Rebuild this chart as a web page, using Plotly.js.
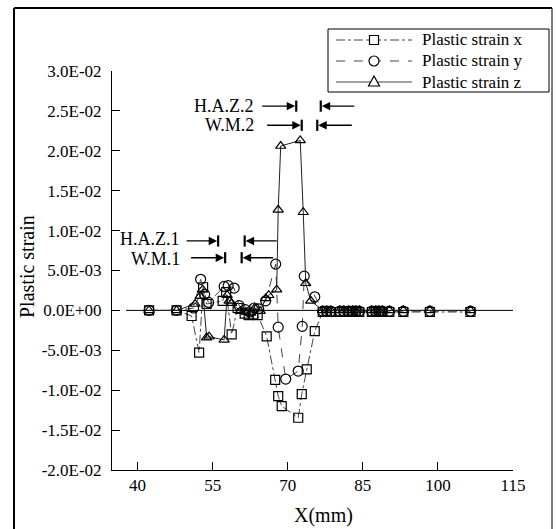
<!DOCTYPE html>
<html>
<head>
<meta charset="utf-8">
<script src="https://cdn.plot.ly/plotly-3.0.1.min.js"></script>
<style>html,body{margin:0;padding:0;background:#fff;}#chart{width:556px;height:529px;}</style>
</head>
<body>
<div id="chart"></div>
<script>
// ---- data (strain values in units of 1E-03) ----
const seriesNames = ["Plastic strain x", "Plastic strain y", "Plastic strain z"];
const tailX = [77.0, 77.8, 78.6, 80.4, 81.2, 82.2, 83.0, 83.6, 84.3, 86.8, 87.6, 88.2, 88.9, 90.3, 93.1, 98.4, 106.5];

const strainXpos = [42.3, 47.8, 50.8, 52.3, 53.1, 53.8, 57.0, 57.7, 58.8, 60.0, 61.4, 62.2, 63.1, 64.0, 65.8, 67.5, 68.1, 68.8, 72.1, 72.8, 73.8, 75.4].concat(tailX);
const strainXval = [0, 0, -0.7, -5.3, 2.9, 0.8, 1.2, 2.3, -3.0, 0.3, -0.4, -0.6, -0.5, -0.6, -3.25, -8.7, -10.75, -12.0, -13.45, -10.5, -7.4, -2.6,
  -0.2, -0.2, -0.2, -0.2, -0.2, -0.2, -0.2, -0.2, -0.2, -0.2, -0.2, -0.2, -0.2, -0.2, -0.2, -0.2, -0.2];

const strainYpos = [42.3, 47.8, 51.2, 52.6, 53.4, 54.2, 57.3, 58.1, 59.3, 60.3, 61.5, 62.4, 63.3, 64.2, 65.6, 67.6, 68.1, 69.6, 72.1, 72.9, 73.3, 75.4].concat(tailX);
const strainYval = [0, 0, 0.3, 3.9, 2.0, 1.0, 3.0, 3.1, 2.8, 0.6, 0.1, -0.2, 0.3, 0.2, 1.2, 5.8, -2.1, -8.6, -7.6, -2.0, 4.3, 1.7,
  -0.1, -0.1, -0.1, -0.1, -0.1, -0.1, -0.1, -0.1, -0.1, -0.1, -0.1, -0.1, -0.1, -0.1, -0.1, -0.1, -0.1];

const strainZpos = [42.3, 47.8, 51.5, 52.5, 53.0, 53.8, 54.3, 57.3, 57.9, 58.3, 58.8, 60.5, 61.6, 62.6, 63.4, 64.5, 65.6, 66.2, 67.8, 68.1, 68.6, 72.5, 73.1, 73.6, 74.6].concat(tailX);
const strainZval = [0, 0, 0.8, 1.8, 2.6, -3.4, -3.3, -3.7, 1.9, 1.2, 0.9, -0.1, -0.2, -0.3, 0.3, -0.1, 1.5, 1.9, 2.6, 12.6, 20.6, 21.3, 12.3, 3.4, 1.2,
  0, 0, 0, 0, 0, 0, 0, 0, 0, 0, 0, 0, 0, 0, 0, 0, 0];

const yTickVals = [0.03, 0.025, 0.02, 0.015, 0.01, 0.005, 0, -0.005, -0.01, -0.015, -0.02];
const yTickText = ["3.0E-02", "2.5E-02", "2.0E-02", "1.5E-02", "1.0E-02", "5.0E-03", "0.0E+00", "-5.0E-03", "-1.0E-02", "-1.5E-02", "-2.0E-02"];
const xTickVals = [40, 55, 70, 85, 100, 115];

const toStrain = v => v.map(d => d * 1e-3);
const FONT = "Liberation Serif, Times New Roman, serif";
const lineDashes = ["dashdot", "dash", "solid"];
const markerSymbols = ["square-open", "circle-open", "triangle-up-open"];

const positions = [strainXpos, strainYpos, strainZpos];
const values = [strainXval, strainYval, strainZval];
const traces = seriesNames.map((nm, i) => ({
  name: nm, x: positions[i], y: toStrain(values[i]), mode: "lines+markers", showlegend: false,
  line: {color: i === 2 ? "#222" : "#444", width: 1, dash: lineDashes[i]},
  marker: {symbol: markerSymbols[i], size: i === 1 ? 10 : 9, color: "#000", line: {width: 1.2, color: "#000"}}
}));

// layout geometry helpers (pixel -> paper)
const M = {l: 112, r: 43, t: 71, b: 59};
const PW = 556 - M.l - M.r, PH = 529 - M.t - M.b;
const px = x => (x - M.l) / PW;
const py = y => (529 - M.b - y) / PH;

function arrow(tail, head, y) {
  return {x: head, y: y, ax: tail, ay: y, xref: "x", yref: "y", axref: "x", ayref: "y",
    showarrow: true, arrowhead: 2, arrowsize: 1.3, arrowwidth: 1.3, arrowcolor: "#000", text: ""};
}
function bar(xv, y) {
  return {type: "line", xref: "x", yref: "y", x0: xv, x1: xv, y0: y - 0.0007, y1: y + 0.0007,
    line: {color: "#000", width: 2.2}};
}
function label(txt, xv, y, shift) {
  return {x: xv, y: y, xref: "x", yref: "y", text: txt, showarrow: false, xanchor: "right", yanchor: "middle",
    yshift: shift || 0, font: {family: FONT, size: 18, color: "#000"}};
}

const yH2 = 0.0256, yW2 = 0.0232, yH1 = 0.0087, yW1 = 0.0066;

const annotations = [
  label("H.A.Z.2", 63.6, yH2), label("W.M.2", 63.6, yW2),
  label("H.A.Z.1", 48.9, yH1, 1.5), label("W.M.1", 48.9, yW1, -1.5),
  arrow(64.6, 71.5, yH2), arrow(83.6, 76.8, yH2),
  arrow(65.6, 72.6, yW2), arrow(83.1, 76.1, yW2),
  arrow(49.5, 55.9, yH1), arrow(68.1, 61.6, yH1),
  arrow(50.4, 57.3, yW1), arrow(67.4, 61.0, yW1),
  {x: px(27), y: py(267), xref: "paper", yref: "paper", text: "Plastic strain", textangle: -90, showarrow: false,
   font: {family: FONT, size: 20, color: "#000"}, xanchor: "center", yanchor: "middle"},
  {x: px(323), y: py(515), xref: "paper", yref: "paper", text: "X(mm)", showarrow: false,
   font: {family: FONT, size: 20, color: "#000"}, xanchor: "center", yanchor: "middle"}
];

const shapes = [
  bar(71.7, yH2), bar(76.6, yH2), bar(72.8, yW2), bar(75.9, yW2),
  bar(56.1, yH1), bar(61.4, yH1), bar(57.5, yW1), bar(60.8, yW1),
  {type: "line", xref: "x", yref: "y", x0: 37.7, x1: 116, y0: 0, y1: 0, line: {color: "#000", width: 1}, layer: "below"},
  // outer frame
  {type: "line", xref: "paper", yref: "paper", x0: px(14), x1: px(552), y0: py(8), y1: py(8), line: {color: "#000", width: 2}},
  {type: "line", xref: "paper", yref: "paper", x0: px(14), x1: px(14), y0: py(8), y1: py(535), line: {color: "#000", width: 2}},
  {type: "line", xref: "paper", yref: "paper", x0: px(552), x1: px(552), y0: py(8), y1: py(535), line: {color: "#000", width: 1}}
];

// legend box drawn by hand so its size matches the reference
const LG = {x0: 328, x1: 549, y0: 29, y1: 92, row0: 40, rowGap: 21, s0: 336, s1: 412, mk: 374, tx: 420};
shapes.push({type: "rect", xref: "paper", yref: "paper", x0: px(LG.x0), x1: px(LG.x1), y0: py(LG.y0), y1: py(LG.y1),
  line: {color: "#000", width: 1}, fillcolor: "#fff"});
seriesNames.forEach((nm, i) => {
  const ry = LG.row0 + i * LG.rowGap;
  shapes.push({type: "line", xref: "paper", yref: "paper", x0: px(LG.s0), x1: px(LG.s1), y0: py(ry), y1: py(ry),
    line: {color: "#444", width: 1, dash: lineDashes[i]}});
  if (i === 0) {
    shapes.push({type: "rect", xref: "paper", yref: "paper", x0: px(LG.mk - 4.5), x1: px(LG.mk + 4.5),
      y0: py(ry - 4.5), y1: py(ry + 4.5), line: {color: "#000", width: 1.2}, fillcolor: "#fff"});
  } else if (i === 1) {
    shapes.push({type: "circle", xref: "paper", yref: "paper", x0: px(LG.mk - 5), x1: px(LG.mk + 5),
      y0: py(ry - 5), y1: py(ry + 5), line: {color: "#000", width: 1.2}, fillcolor: "#fff"});
  } else {
    const p = `M${px(LG.mk)},${py(ry - 6)} L${px(LG.mk - 5.5)},${py(ry + 4)} L${px(LG.mk + 5.5)},${py(ry + 4)} Z`;
    shapes.push({type: "path", xref: "paper", yref: "paper", path: p, line: {color: "#000", width: 1.2}, fillcolor: "#fff"});
  }
  annotations.push({x: px(LG.tx), y: py(ry), xref: "paper", yref: "paper", text: nm, showarrow: false,
    xanchor: "left", yanchor: "middle", font: {family: FONT, size: 17, color: "#000"}});
});

const layout = {
  width: 556, height: 529,
  margin: {l: M.l, r: M.r, t: M.t, b: M.b, pad: 0},
  paper_bgcolor: "#fff", plot_bgcolor: "#fff",
  font: {family: FONT, size: 16, color: "#000"},
  showlegend: false,
  xaxis: {range: [34.9, 115], tickvals: xTickVals, ticks: "inside", ticklen: 8, tickwidth: 1, tickcolor: "#000",
    showline: true, linecolor: "#000", linewidth: 1, showgrid: false, zeroline: false,
    tickfont: {family: FONT, size: 17, color: "#000"}},
  yaxis: {range: [-0.02, 0.03], tickvals: yTickVals, ticktext: yTickText, ticks: "inside", ticklen: 8, tickwidth: 1,
    tickcolor: "#000", showline: true, linecolor: "#000", linewidth: 1, showgrid: false, zeroline: false,
    ticklabelstandoff: 6, tickfont: {family: FONT, size: 17, color: "#000"}},
  annotations: annotations,
  shapes: shapes
};

Plotly.newPlot("chart", traces, layout, {displayModeBar: false, staticPlot: true});
</script>
</body>
</html>
